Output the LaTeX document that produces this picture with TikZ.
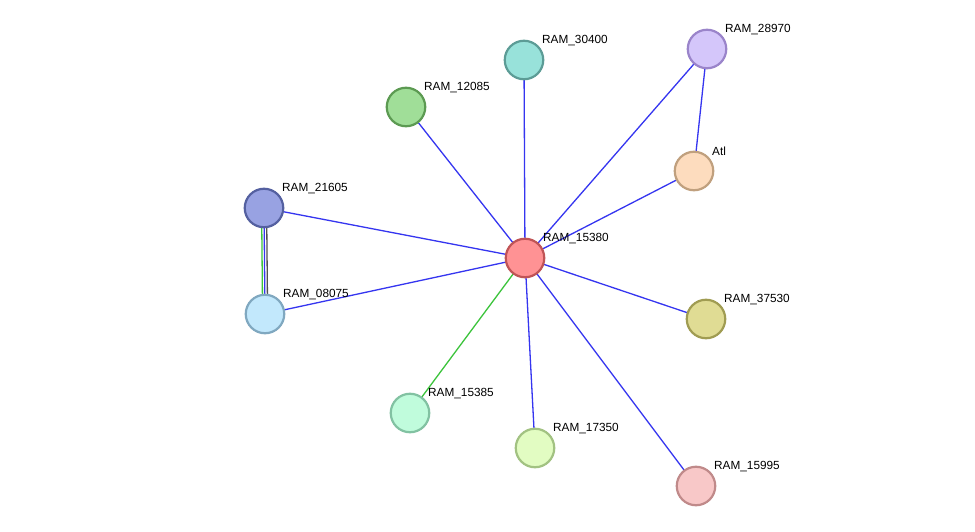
\documentclass[tikz,border=0pt]{standalone}
\usepackage{fontspec}
\setmainfont{Liberation Sans}
\definecolor{eblue}{HTML}{3535F0}
\definecolor{egreen}{HTML}{3CC43C}
\definecolor{egrey}{HTML}{505050}
\tikzset{
  prot/.style={circle, line width=2.2pt, minimum size=38.5pt, inner sep=0pt},
  lbl/.style={anchor=west, inner sep=0pt, font=\fontsize{11.8}{12}\selectfont},
  bl/.style={draw=eblue, line width=1.3pt},
  gl/.style={draw=egreen, line width=1.3pt},
  kl/.style={draw=egrey, line width=1.3pt},
}
\newcommand{\protnode}[7]{%
  \definecolor{f#1}{HTML}{#4}\definecolor{d#1}{HTML}{#5}%
  \node[prot, fill=f#1, draw=d#1] (#1) at (#2,#3) {};
  \node[lbl] (l#1) at (#2+18,#3-19.5) {#6};
}
\begin{document}
\begin{tikzpicture}[x=1pt,y=-1pt]
\useasboundingbox (0,0) rectangle (975,532);
\fill[white] (0,0) rectangle (975,532);
% edges first (coordinates)
\coordinate (c15380) at (525,258);
\coordinate (c30400) at (524,60);
\coordinate (c28970) at (707,49);
\coordinate (c12085) at (406,107);
\coordinate (cAtl) at (694,171);
\coordinate (c21605) at (264,208);
\coordinate (c08075) at (265,314);
\coordinate (c37530) at (706,319);
\coordinate (c15385) at (410,413);
\coordinate (c17350) at (535,448);
\coordinate (c15995) at (696,486);
\draw[bl] (c15380) -- (c30400);
\draw[bl] (c15380) -- (c28970);
\draw[bl] (c15380) -- (c12085);
\draw[bl] (c15380) -- (cAtl);
\draw[bl] (cAtl) -- (c28970);
\draw[bl] (c15380) -- (c21605);
\draw[bl] (c15380) -- (c08075);
\draw[bl] (c15380) -- (c37530);
\draw[gl] (c15380) -- (c15385);
\draw[bl] (c15380) -- (c17350);
\draw[bl] (c15380) -- (c15995);
\draw[gl] ([xshift=-2.4pt]c21605) -- ([xshift=-2.4pt]c08075);
\draw[bl] (c21605) -- (c08075);
\draw[kl] ([xshift=2.6pt]c21605) -- ([xshift=2.6pt]c08075);
% nodes
\protnode{n15380}{525}{258}{FF9294}{C05456}{RAM\_15380}{}
\protnode{n30400}{524}{60}{98E2DA}{5C9C96}{RAM\_30400}{}
\protnode{n28970}{707}{49}{D4C6FA}{9A84CA}{RAM\_28970}{}
\protnode{n12085}{406}{107}{A0DE98}{5C9A52}{RAM\_12085}{}
\protnode{nAtl}{694}{171}{FDDCBE}{C0A07E}{Atl}{}
\protnode{n21605}{264}{208}{98A2E2}{5460A0}{RAM\_21605}{}
\protnode{n08075}{265}{314}{C2E8FC}{80A8C0}{RAM\_08075}{}
\protnode{n37530}{706}{319}{E0DC94}{A09C52}{RAM\_37530}{}
\protnode{n15385}{410}{413}{C0FCDC}{82C2A2}{RAM\_15385}{}
\protnode{n17350}{535}{448}{E2FCC2}{A2C282}{RAM\_17350}{}
\protnode{n15995}{696}{486}{F8C8C8}{C08A8A}{RAM\_15995}{}
\end{tikzpicture}
\end{document}
